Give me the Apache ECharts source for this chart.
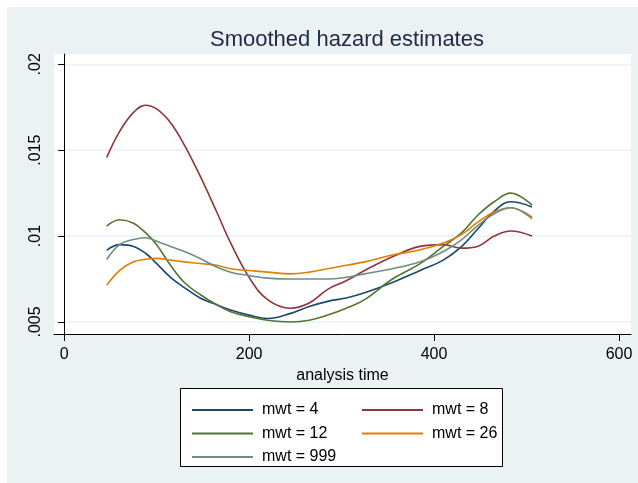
<!DOCTYPE html>
<html>
<head>
<meta charset="utf-8">
<script src="https://cdn.jsdelivr.net/npm/echarts@6/dist/echarts.min.js"></script>
<style>
  html, body { margin: 0; padding: 0; background: #fff; }
  #chart { width: 638px; height: 483px; }
</style>
</head>
<body>
<div id="chart"></div>
<script>
// analysis time points (shared by all curves)
var times = [46, 60, 75, 88, 100, 115, 130, 147, 165, 180, 200, 220, 245, 265, 285, 305, 325, 355, 385, 410, 430, 447, 465, 483, 506];

var mwt4   = [0.00917, 0.0095, 0.0094, 0.0090, 0.0084, 0.0076, 0.0070, 0.0064, 0.0060, 0.0057, 0.0054, 0.0052, 0.0055, 0.0059, 0.0062, 0.0064, 0.0067, 0.0073, 0.0080, 0.0086, 0.0094, 0.0104, 0.01145, 0.0120, 0.0117];
var mwt8   = [0.01458, 0.0161, 0.0172, 0.01762, 0.0174, 0.0166, 0.0153, 0.0135, 0.0114, 0.0096, 0.0076, 0.0063, 0.0058, 0.0061, 0.0069, 0.0074, 0.0080, 0.0088, 0.0094, 0.0095, 0.0093, 0.0094, 0.0100, 0.0103, 0.0100];
var mwt12  = [0.01058, 0.01095, 0.01075, 0.0102, 0.0095, 0.0083, 0.0073, 0.0066, 0.0060, 0.0056, 0.0053, 0.0051, 0.0050, 0.0051, 0.0054, 0.0058, 0.0063, 0.0075, 0.0084, 0.0094, 0.0102, 0.0112, 0.0120, 0.0125, 0.0118];
var mwt26  = [0.00713, 0.0080, 0.0085, 0.00865, 0.0087, 0.0086, 0.0085, 0.0084, 0.0083, 0.0081, 0.0080, 0.0079, 0.0078, 0.0079, 0.0081, 0.0083, 0.0085, 0.0089, 0.0092, 0.0096, 0.0101, 0.0108, 0.0114, 0.01165, 0.0110];
var mwt999 = [0.00864, 0.0095, 0.0098, 0.0099, 0.0097, 0.0094, 0.0091, 0.0087, 0.0082, 0.0079, 0.0077, 0.00755, 0.0075, 0.0075, 0.0075, 0.0076, 0.0078, 0.0081, 0.0085, 0.0091, 0.0098, 0.0106, 0.0113, 0.01165, 0.0111];

var xTicks = [0, 200, 400, 600];
var yTicks = [0.005, 0.01, 0.015, 0.02];

var names = ['mwt = 4', 'mwt = 8', 'mwt = 12', 'mwt = 26', 'mwt = 999'];
var values = [mwt4, mwt8, mwt12, mwt26, mwt999];
var colors = ['#1a476f', '#90353b', '#55752f', '#e37e00', '#6e8e84'];

var font = 'Liberation Sans, Arial, sans-serif';

function pairs(vals) {
	return times.map(function (t, i) { return [t, vals[i]]; });
}

function legendCol(items, left) {
	return {
		data: items,
		orient: 'vertical', left: left, top: 397, z: 5,
		icon: 'rect', itemWidth: 61, itemHeight: 2, itemGap: 7.5,
		textStyle: { fontFamily: font, fontSize: 16, color: '#000', padding: [0, 0, 0, 4] }
	};
}

var chart = echarts.init(document.getElementById('chart'));

chart.setOption({
	backgroundColor: '#fff',
	animation: false,
	title: {
		text: 'Smoothed hazard estimates',
		left: 342,
		top: 24,
		textAlign: 'center',
		textStyle: { fontFamily: font, fontSize: 22, fontWeight: 'normal', color: '#1f2a48' }
	},
	graphic: [
		{ type: 'rect', z: -100, shape: { x: 7, y: 7, width: 631, height: 476 }, style: { fill: '#eaf2f3' } },
		{ type: 'rect', z: 1, shape: { x: 180.5, y: 388.5, width: 322, height: 78 }, style: { fill: '#fff', stroke: '#000', lineWidth: 1 } }
	],
	grid: {
		left: 54, right: 7, top: 54, bottom: 149,
		show: true, backgroundColor: '#fff', borderWidth: 0
	},
	legend: [
		legendCol(['mwt = 4', 'mwt = 12', 'mwt = 999'], 187),
		legendCol(['mwt = 8', 'mwt = 26'], 357)
	],
	xAxis: {
		type: 'value',
		min: -11, max: 613,
		name: 'analysis time',
		nameLocation: 'middle',
		nameGap: 30,
		nameTextStyle: { fontFamily: font, fontSize: 16, color: '#000' },
		axisLine: { show: true, lineStyle: { color: '#000', width: 1 } },
		axisTick: { show: true, length: 7, customValues: xTicks, lineStyle: { color: '#000' } },
		axisLabel: { customValues: xTicks, fontFamily: font, fontSize: 16, color: '#000', margin: 13 },
		splitLine: { show: false }
	},
	yAxis: {
		type: 'value',
		min: 0.0043, max: 0.0206,
		axisLine: { show: true, lineStyle: { color: '#000', width: 1 } },
		axisTick: { show: true, length: 6, customValues: yTicks, lineStyle: { color: '#000' } },
		axisLabel: {
			customValues: yTicks, rotate: 90, margin: 10,
			fontFamily: font, fontSize: 16, color: '#000',
			formatter: function (v) { return String(v).replace('0.', '.'); }
		},
		splitLine: { show: true, lineStyle: { color: '#eaf2f3', width: 1.5 } }
	},
	series: names.map(function (n, i) {
		return {
			name: n,
			type: 'line',
			data: pairs(values[i]),
			smooth: 0.4,
			symbol: 'none',
			color: colors[i],
			lineStyle: { color: colors[i], width: 1.6 }
		};
	})
});
</script>
</body>
</html>
